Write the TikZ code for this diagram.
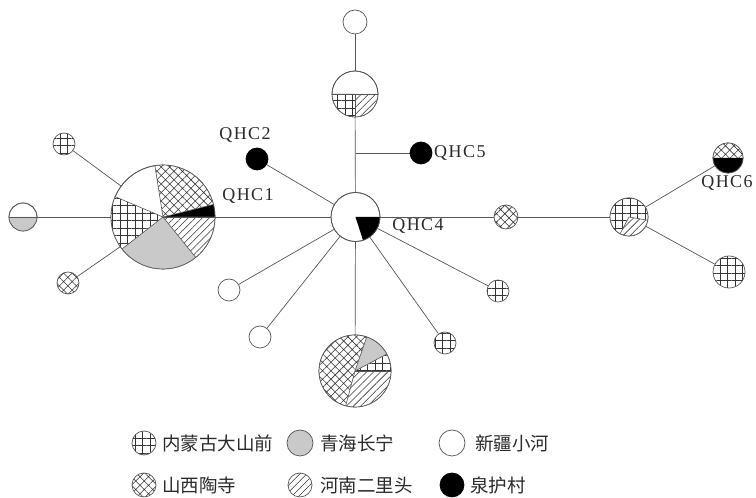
\documentclass[tikz,border=0pt]{standalone}
\usepackage{fontspec}
\setmainfont{Liberation Serif}
\newfontfamily\lblfont[LetterSpace=8]{Liberation Serif}
\newfontfamily\cjk{Noto Sans CJK SC}
\usetikzlibrary{patterns.meta,backgrounds}
\definecolor{ln}{HTML}{555555}
\definecolor{gy}{HTML}{C9C9C9}
\definecolor{tx}{HTML}{2A2A2A}
\tikzset{
  hap/.style={circle, draw=ln, line width=0.7pt, inner sep=0pt, minimum size=#1},
  edge/.style={draw=ln, line width=0.7pt},
  divl/.style={draw=ln, line width=0.6pt},
  pgrid/.style={pattern={Hatch[angle=0,distance=7.5pt,line width=0.6pt]}, pattern color=black!80},
  pdiam/.style={pattern={Hatch[angle=45,distance=6pt,line width=0.55pt]}, pattern color=black!80},
  phatch/.style={pattern={Lines[angle=45,distance=5pt,line width=0.55pt]}, pattern color=black!80},
  pgray/.style={fill=gy},
  pblack/.style={fill=black},
  pwhite/.style={fill=white},
  qlbl/.style={font=\lblfont\fontsize{18}{18}\selectfont, text=tx, inner sep=0pt},
  ltxt/.style={font=\cjk\fontsize{18.5}{19}\selectfont, text=tx, anchor=west, inner sep=0pt},
}
\newcommand{\pieseg}[5]{%
  \fill[white] (#1.center) -- ++(#3:#2) arc[start angle=#3,end angle=#4,radius=#2] -- cycle;
  \fill[#5] (#1.center) -- ++(#3:#2) arc[start angle=#3,end angle=#4,radius=#2] -- cycle;}
\newcommand{\pielin}[3]{\draw[divl] (#1.center) -- ++(#3:#2);}
\newcommand{\ring}[2]{\draw[edge] (#1.center) circle[radius=#2];}
\begin{document}
\begin{tikzpicture}[x=1pt,y=1pt]
\useasboundingbox (0,0) rectangle (756,498);
% nodes
\node[hap=104pt, fill=white] (L) at (163,281) {};
\node[hap=49pt, fill=white] (C) at (355.5,281) {};
\node[hap=46pt, fill=white] (T) at (355,404) {};
\node[hap=24pt, fill=white] (TT) at (355,476) {};
\node[hap=72pt, fill=white] (B) at (355,127) {};
\node[hap=22pt, fill=black, draw=black] (Q2) at (257,339) {};
\node[hap=22pt, fill=black, draw=black] (Q5) at (421,345) {};
\coordinate (J) at (355.5,345);
\node[hap=24pt, pdiam] (X) at (506,281) {};
\node[hap=38pt, fill=white] (R) at (629,281) {};
\node[hap=30pt, fill=white] (Q6) at (728,340) {};
\node[hap=32pt, pgrid] (RG) at (729,226) {};
\node[hap=22pt, fill=white] (W1) at (229,208) {};
\node[hap=22pt, fill=white] (W2) at (260,161) {};
\node[hap=22pt, pgrid] (G1) at (445,155) {};
\node[hap=22pt, pgrid] (G2) at (498,207) {};
\node[hap=22pt, pgrid] (LG) at (64,354) {};
\node[hap=28pt, fill=white] (LY) at (23,281) {};
\node[hap=22pt, pdiam] (LD) at (68,215) {};
% connectors
\begin{scope}[on background layer]
\draw[edge] (L) -- (C);
\draw[edge] (C) -- (Q2);
\draw[edge] (C) -- (T);
\draw[edge] (J) -- (Q5);
\draw[edge] (T) -- (TT);
\draw[edge] (C) -- (X);
\draw[edge] (X) -- (R);
\draw[edge] (R) -- (Q6);
\draw[edge] (R) -- (RG);
\draw[edge] (C) -- (W1);
\draw[edge] (C) -- (W2);
\draw[edge] (C) -- (B);
\draw[edge] (C) -- (G1);
\draw[edge] (C) -- (G2);
\draw[edge] (L) -- (LG);
\draw[edge] (L) -- (LY);
\draw[edge] (L) -- (LD);
\end{scope}
% big left pie
\pieseg{L}{52pt}{0}{14}{pblack}
\pieseg{L}{52pt}{14}{99}{pdiam}
\pieseg{L}{52pt}{157}{218}{pgrid}
\pieseg{L}{52pt}{218}{309}{pgray}
\pieseg{L}{52pt}{309}{360}{phatch}
\pielin{L}{52pt}{0}\pielin{L}{52pt}{14}\pielin{L}{52pt}{99}\pielin{L}{52pt}{157}\pielin{L}{52pt}{218}\pielin{L}{52pt}{309}
\ring{L}{52pt}
% center
\pieseg{C}{24.5pt}{-72}{0}{pblack}
\ring{C}{24.5pt}
% top pie
\pieseg{T}{23pt}{180}{270}{pgrid}
\pieseg{T}{23pt}{270}{360}{phatch}
\pielin{T}{23pt}{180}\pielin{T}{23pt}{0}\pielin{T}{23pt}{270}
\ring{T}{23pt}
% bottom pie
\pieseg{B}{36pt}{71}{255}{pdiam}
\pieseg{B}{36pt}{255}{360}{phatch}
\pieseg{B}{36pt}{0}{28}{pgrid}
\pieseg{B}{36pt}{28}{71}{pgray}
\pielin{B}{36pt}{71}\pielin{B}{36pt}{255}\pielin{B}{36pt}{0}\pielin{B}{36pt}{28}
\ring{B}{36pt}
% right pie
\pieseg{R}{19pt}{0}{360}{pgrid}
\pieseg{R}{19pt}{242}{350}{phatch}
\pielin{R}{19pt}{242}\pielin{R}{19pt}{350}
\ring{R}{19pt}
% QHC6
\pieseg{Q6}{15pt}{0}{180}{pdiam}
\pieseg{Q6}{15pt}{180}{360}{pblack}
\ring{Q6}{15pt}
% left gray-half
\pieseg{LY}{14pt}{180}{360}{pgray}
\pielin{LY}{14pt}{0}\pielin{LY}{14pt}{180}
\ring{LY}{14pt}
% labels
\node[qlbl] (lq1) at (248,302) {QHC1};
\node[qlbl] (lq2) at (245,363) {QHC2};
\node[qlbl, anchor=west] (lq5) at (434,345) {QHC5};
\node[qlbl] (lq4) at (418,272) {QHC4};
\node[qlbl] (lq6) at (727,315) {QHC6};
% legend
\node[hap=24pt, pgrid] (k1) at (144,55) {};
\node[hap=26pt, fill=gy] (k2) at (300,55) {};
\node[hap=26pt, fill=white] (k3) at (452,55) {};
\node[hap=24pt, pdiam] (k4) at (144,13) {};
\node[hap=24pt, phatch] (k5) at (300,13) {};
\node[hap=24pt, fill=black, draw=black] (k6) at (452,13) {};
\node[ltxt] (t1) at (162,55) {内蒙古大山前};
\node[ltxt] (t2) at (320,55) {青海长宁};
\node[ltxt] (t3) at (475,55) {新疆小河};
\node[ltxt] (t4) at (162,13) {山西陶寺};
\node[ltxt] (t5) at (320,13) {河南二里头};
\node[ltxt] (t6) at (470,13) {泉护村};
\end{tikzpicture}
\end{document}
